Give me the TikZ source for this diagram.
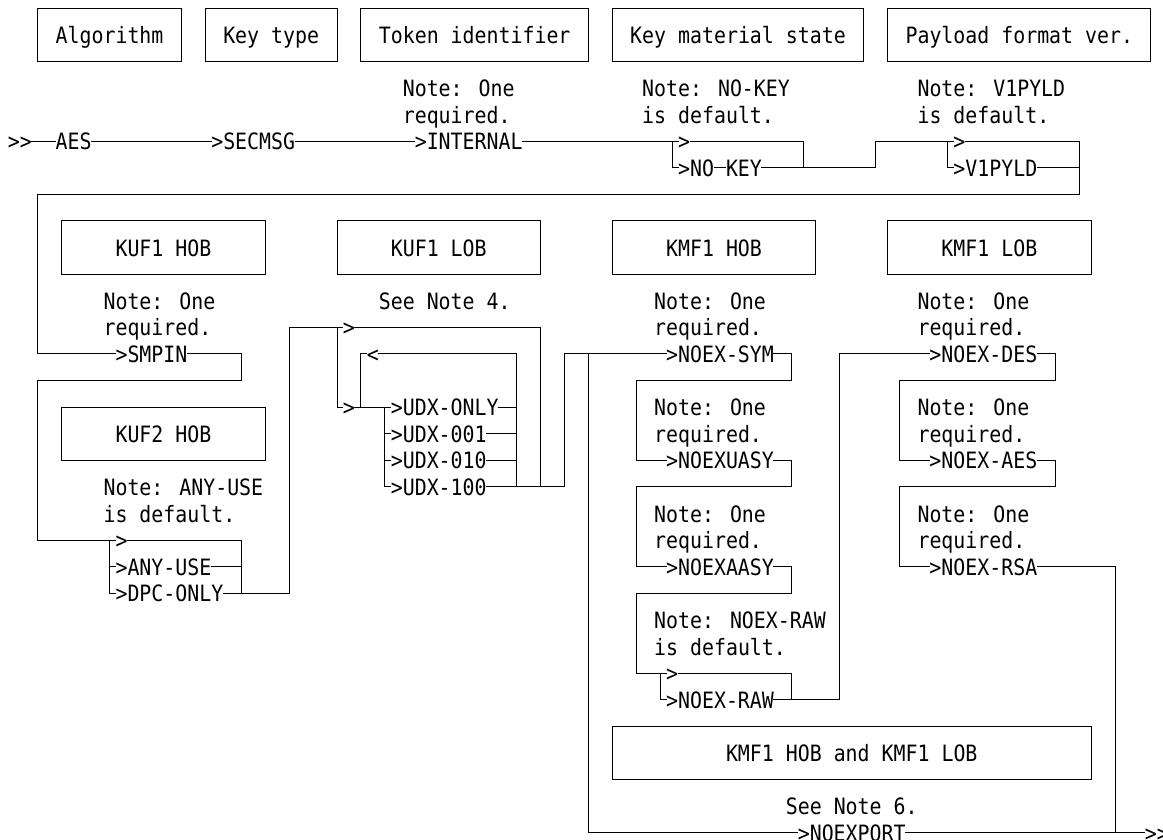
\documentclass[tikz,border=0pt]{standalone}
\usepackage{fontspec}
\newfontfamily\diamono[FakeStretch=0.884,Ligatures=TeXOff]{DejaVu Sans Mono}
\newcommand\tx[4]{\node[lbl] (#1) at ({#2-0.5},{#3+0.33}) {#4};}
\newcommand\bx[6]{\draw[boxl] (#2,#3) rectangle (#4,{#3+2});\tx{#1}{#5}{#3+1}{#6}}
\begin{document}
\begin{tikzpicture}[x=11.97pt,y=-26.6pt,
  rail/.style={line width=0.95pt,line cap=rect,line join=miter},
  boxl/.style={line width=0.95pt},
  lbl/.style={anchor=base west,inner sep=0pt,outer sep=0pt,font=\diamono\fontsize{22.5}{27}\selectfont}]
\useasboundingbox (-1.1516,-0.3008) rectangle (96.008,31.278);
% top boxes
\bx{bAlg}{2}{0}{14}{4}{Algorithm}
\bx{bKey}{16}{0}{27}{18}{Key type}
\bx{bTok}{29}{0}{48}{31}{Token identifier}
\bx{bKms}{50}{0}{71}{52}{Key material state}
\bx{bPay}{73}{0}{95}{75}{Payload format ver.}
% notes row 3-4
\tx{n1a}{33}{3}{Note: One}\tx{n1b}{33}{4}{required.}
\tx{n2a}{53}{3}{Note: NO-KEY}\tx{n2b}{53}{4}{is default.}
\tx{n3a}{76}{3}{Note: V1PYLD}\tx{n3b}{76}{4}{is default.}
% row 5-7
\tx{st}{0}{5}{>>}
\draw[rail] (1.5,5)--(3.5,5);
\tx{aes}{4}{5}{AES}
\draw[rail] (6.5,5)--(16.5,5);
\tx{secmsg}{17}{5}{>SECMSG}
\draw[rail] (23.5,5)--(33.5,5);
\tx{internal}{34}{5}{>INTERNAL}
\draw[rail] (42.5,5)--(55.5,5);
\draw[rail] (55,5)--(55,6)--(55.5,6);
\tx{nkskip}{56}{5}{>}
\draw[rail] (56.5,5)--(66,5)--(66,6);
\tx{nk1}{56}{6}{>NO}
\draw[rail] (58.5,6)--(59.5,6);
\tx{nk2}{60}{6}{KEY}
\draw[rail] (62.5,6)--(72,6)--(72,5)--(78.5,5);
\draw[rail] (78,5)--(78,6)--(78.5,6);
\tx{v1skip}{79}{5}{>}
\tx{v1}{79}{6}{>V1PYLD}
\draw[rail] (85.5,6)--(89,6);
\draw[rail] (79.5,5)--(89,5)--(89,7)--(2,7)--(2,13)--(8.5,13);
% second band boxes
\bx{bKuf1h}{4}{8}{21}{9}{KUF1 HOB}
\bx{bKuf1l}{27}{8}{44}{32}{KUF1 LOB}
\bx{bKmf1h}{50}{8}{67}{55}{KMF1 HOB}
\bx{bKmf1l}{73}{8}{90}{78}{KMF1 LOB}
\bx{bKuf2h}{4}{15}{21}{9}{KUF2 HOB}
\bx{bKmfBoth}{50}{27}{90}{60}{KMF1 HOB and KMF1 LOB}
% notes
\tx{n4a}{8}{11}{Note: One}\tx{n4b}{8}{12}{required.}
\tx{n5}{31}{11}{See Note 4.}
\tx{n6a}{54}{11}{Note: One}\tx{n6b}{54}{12}{required.}
\tx{n7a}{76}{11}{Note: One}\tx{n7b}{76}{12}{required.}
\tx{n8a}{54}{15}{Note: One}\tx{n8b}{54}{16}{required.}
\tx{n9a}{76}{15}{Note: One}\tx{n9b}{76}{16}{required.}
\tx{n10a}{8}{18}{Note: ANY-USE}\tx{n10b}{8}{19}{is default.}
\tx{n11a}{54}{19}{Note: One}\tx{n11b}{54}{20}{required.}
\tx{n12a}{76}{19}{Note: One}\tx{n12b}{76}{20}{required.}
\tx{n13a}{54}{23}{Note: NOEX-RAW}\tx{n13b}{54}{24}{is default.}
\tx{n14}{65}{30}{See Note 6.}
% KUF1 HOB / KUF2 HOB
\tx{smpin}{9}{13}{>SMPIN}
\draw[rail] (14.5,13)--(19,13)--(19,14)--(2,14)--(2,20)--(8.5,20);
\tx{anyskip}{9}{20}{>}
\draw[rail] (8,20)--(8,22)--(8.5,22);
\draw[rail] (8,21)--(8.5,21);
\tx{anyuse}{9}{21}{>ANY-USE}
\draw[rail] (16.5,21)--(19,21);
\tx{dpc}{9}{22}{>DPC-ONLY}
\draw[rail] (17.5,22)--(19,22);
\draw[rail] (9.5,20)--(19,20)--(19,22)--(23,22)--(23,12)--(27.5,12);
% KUF1 LOB
\tx{udxskip}{28}{12}{>}
\draw[rail] (28.5,12)--(44,12)--(44,18);
\draw[rail] (27,12)--(27,15)--(27.5,15);
\tx{udxin}{28}{15}{>}
\draw[rail] (28.5,15)--(31.5,15);
\draw[rail] (29,15)--(29,13)--(29.5,13);
\tx{rep}{30}{13}{<}
\draw[rail] (30.5,13)--(42,13)--(42,18);
\draw[rail] (31,15)--(31,18)--(31.5,18);
\draw[rail] (31,16)--(31.5,16);
\draw[rail] (31,17)--(31.5,17);
\tx{udxonly}{32}{15}{>UDX-ONLY}
\draw[rail] (40.5,15)--(42,15);
\tx{udx001}{32}{16}{>UDX-001}
\draw[rail] (39.5,16)--(42,16);
\tx{udx010}{32}{17}{>UDX-010}
\draw[rail] (39.5,17)--(42,17);
\tx{udx100}{32}{18}{>UDX-100}
\draw[rail] (39.5,18)--(46,18)--(46,13)--(54.5,13);
% bypass NOEXPORT
\draw[rail] (48,13)--(48,31)--(65.5,31);
% KMF1 HOB
\tx{noexsym}{55}{13}{>NOEX-SYM}
\draw[rail] (63.5,13)--(65,13)--(65,14)--(52,14)--(52,17)--(54.5,17);
\tx{noexuasy}{55}{17}{>NOEXUASY}
\draw[rail] (63.5,17)--(65,17)--(65,18)--(52,18)--(52,21)--(54.5,21);
\tx{noexaasy}{55}{21}{>NOEXAASY}
\draw[rail] (63.5,21)--(65,21)--(65,22)--(52,22)--(52,25)--(54.5,25);
\tx{rawskip}{55}{25}{>}
\draw[rail] (55.5,25)--(65,25)--(65,26);
\draw[rail] (54,25)--(54,26)--(54.5,26);
\tx{noexraw}{55}{26}{>NOEX-RAW}
\draw[rail] (63.5,26)--(69,26)--(69,13)--(76.5,13);
% KMF1 LOB
\tx{noexdes}{77}{13}{>NOEX-DES}
\draw[rail] (85.5,13)--(87,13)--(87,14)--(74,14)--(74,17)--(76.5,17);
\tx{noexaes}{77}{17}{>NOEX-AES}
\draw[rail] (85.5,17)--(87,17)--(87,18)--(74,18)--(74,21)--(76.5,21);
\tx{noexrsa}{77}{21}{>NOEX-RSA}
\draw[rail] (85.5,21)--(92,21)--(92,31);
% end
\tx{noexport}{66}{31}{>NOEXPORT}
\draw[rail] (74.5,31)--(94.5,31);
\tx{fin}{95}{31}{>>}
\end{tikzpicture}
\end{document}
